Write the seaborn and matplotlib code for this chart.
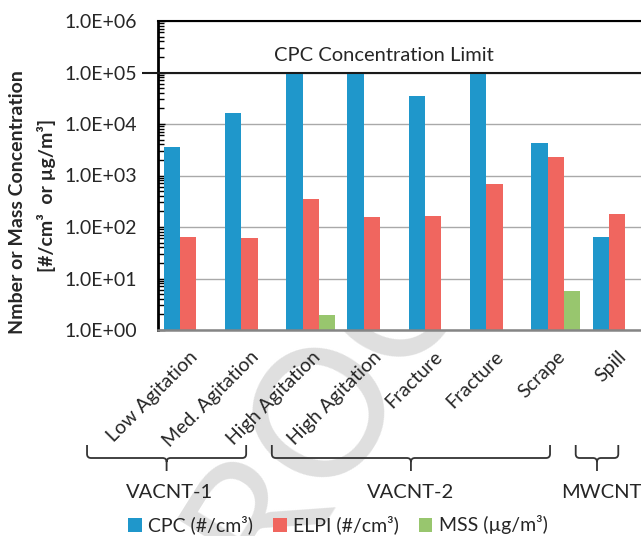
import matplotlib
matplotlib.use("Agg")
import numpy as np
import pandas as pd
import matplotlib.pyplot as plt
import seaborn as sns
from matplotlib.path import Path
from matplotlib.patches import PathPatch
from matplotlib.transforms import IdentityTransform, ScaledTranslation, blended_transform_factory
from matplotlib.ticker import LogLocator, FuncFormatter, NullFormatter

# ---------------- data ----------------
categories = ["Low Agitation", "Med. Agitation", "High Agitation", "High Agitation",
              "Fracture", "Fracture", "Scrape", "Spill"]
cpc = [3600, 16500, 1.0e5, 1.0e5, 34500, 1.0e5, 4350, 64]
elpi = [65, 61, 355, 159, 161, 675, 2300, 178]
mss = [np.nan, np.nan, 1.96, np.nan, np.nan, np.nan, 5.84, np.nan]
series_names = ["CPC (#/cm³)", "ELPI (#/cm³)", "MSS (µg/m³)"]
cpc_limit = 1.0e5
limit_label = "CPC Concentration Limit"
group_names = ["VACNT-1", "VACNT-2", "MWCNT"]

# ---------------- layout / style ----------------
colors = ["#1F97CB", "#F0665F", "#98C66E"]
txt = "#262626"
W, H, DPI = 641, 536, 100
ax_left, ax_right, ax_top, ax_bot = 157.5, 647.7, 21.0, 330.0  # pixels
brace_spans = [(-1.65, 0.947), (1.366, 5.906), (6.325, 7.02)]
group_label_x = [-0.31, 3.63, 6.75]

sns.set_style("white")
plt.rcParams["font.family"] = ["Lato", "DejaVu Sans"]
plt.rcParams["text.color"] = txt

keys = [f"{i}" for i in range(len(categories))]
rows = []
for name, vals in zip(series_names, [cpc, elpi, mss]):
    for k, v in zip(keys, vals):
        rows.append({"cond": k, "series": name, "value": v})
df = pd.DataFrame(rows)

fig = plt.figure(figsize=(W / DPI, H / DPI), dpi=DPI)
fig.patch.set_facecolor("white")
ax = fig.add_axes([ax_left / W, 1 - ax_bot / H, (ax_right - ax_left) / W, (ax_bot - ax_top) / H])
ax.set_facecolor("white")

# faint watermark behind the axes
fig.text(326 / W, 1 - 402 / H, "ROC", rotation=58, fontsize=128, color="#DFDFDF",
         ha="center", va="center", zorder=-5, family=["Lato", "DejaVu Sans"])

sns.barplot(data=df, x="cond", y="value", hue="series", order=keys,
            hue_order=series_names, palette=colors, saturation=1, linewidth=0,
            width=0.8, ax=ax, errorbar=None)

ax.set_yscale("log")
ax.set_ylim(1, 1e6)
ax.set_xlim(-0.5, len(categories) - 0.5)
ax.set_axisbelow(True)
ax.yaxis.grid(True, which="major", color="#A9A9A9", lw=1.0)
ax.xaxis.grid(False)

ax.yaxis.set_major_locator(LogLocator(base=10, numticks=10))
ax.yaxis.set_minor_locator(LogLocator(base=10, subs=np.arange(2, 10), numticks=20))
ax.yaxis.set_minor_formatter(NullFormatter())
ax.yaxis.set_major_formatter(FuncFormatter(lambda v, p: f"{v:.1E}"))
ax.tick_params(axis="y", which="major", direction="in", length=5, width=1, color="black",
               labelsize=14, labelcolor=txt, pad=14.5, left=True, right=False)
ax.tick_params(axis="y", which="minor", direction="in", length=4, width=1, color="black",
               left=True, right=False)

ax.set_xticks(range(len(categories)))
ax.set_xticklabels(categories, rotation=45, ha="right", va="top", rotation_mode="anchor")
ax.tick_params(axis="x", length=0, pad=13, labelsize=14, labelcolor=txt)
for lab in ax.get_xticklabels():
    lab.set_transform(lab.get_transform() + ScaledTranslation(0.5 / DPI, 0, fig.dpi_scale_trans))

ax.set_xlabel("")
ax.set_ylabel("")

for s in ["top", "left"]:
    ax.spines[s].set_color("black")
ax.spines["top"].set_linewidth(1.5)
ax.spines["left"].set_linewidth(2.0)
ax.spines["bottom"].set_color("#858585")
ax.spines["bottom"].set_linewidth(1.8)
ax.spines["right"].set_visible(False)

# CPC concentration limit line and label
ax.hlines(cpc_limit, -0.76, len(categories) - 0.5, color="#1A1A1A", lw=1.5, clip_on=False, zorder=4)
ax.text(3.19, 10 ** 5.229, limit_label, ha="center", va="baseline", fontsize=14.5, color=txt)

# legend
handles, labels = ax.get_legend_handles_labels()
ax.get_legend().remove()
fig.legend(handles, labels, loc="center", bbox_to_anchor=(338 / W, 1 - 525 / H), ncol=3,
           frameon=False, fontsize=14, handlelength=0.7, handleheight=0.7,
           handletextpad=0.35, columnspacing=1.0, borderaxespad=0)

# y label (two lines)
fig.text(17.5 / W, 1 - 202 / H, "Nmber or Mass Concentration", rotation=90, ha="center",
         va="center", fontsize=14, fontweight="bold", color=txt)
fig.text(46.5 / W, 1 - 195 / H, "[#/cm³  or µg/m³]", rotation=90, ha="center",
         va="center", fontsize=14, fontweight="bold", color=txt)

# group braces and labels
fig.canvas.draw()
def xpix(xd):
    return ax.transData.transform((xd, 1))[0]

y_top, y_h, y_b = H - 445, H - 458, H - 471
r = 4
for (x0d, x1d), gname, gx in zip(brace_spans, group_names, group_label_x):
    x0, x1 = xpix(x0d), xpix(x1d)
    xc = (x0 + x1) / 2
    verts = [(x0, y_top), (x0, y_h + r), (x0, y_h), (x0 + r, y_h), (xc - r, y_h), (xc, y_h),
             (xc, y_h - r), (xc, y_b),
             (xc, y_h - r), (xc, y_h), (xc + r, y_h), (x1 - r, y_h), (x1, y_h), (x1, y_h + r),
             (x1, y_top)]
    codes = [Path.MOVETO, Path.LINETO, Path.CURVE3, Path.CURVE3, Path.LINETO, Path.CURVE3,
             Path.CURVE3, Path.LINETO,
             Path.MOVETO, Path.CURVE3, Path.CURVE3, Path.LINETO, Path.CURVE3, Path.CURVE3,
             Path.LINETO]
    patch = PathPatch(Path(verts, codes), fill=False, edgecolor="#333333", lw=1.3,
                      transform=IdentityTransform(), clip_on=False)
    fig.add_artist(patch)
    trans = blended_transform_factory(ax.transData, fig.transFigure)
    ax.text(gx, 1 - 497.5 / H, gname, transform=trans, ha="center", va="baseline",
            fontsize=14.5, color=txt, clip_on=False)

fig.savefig("out.png", dpi=DPI, facecolor="white")
